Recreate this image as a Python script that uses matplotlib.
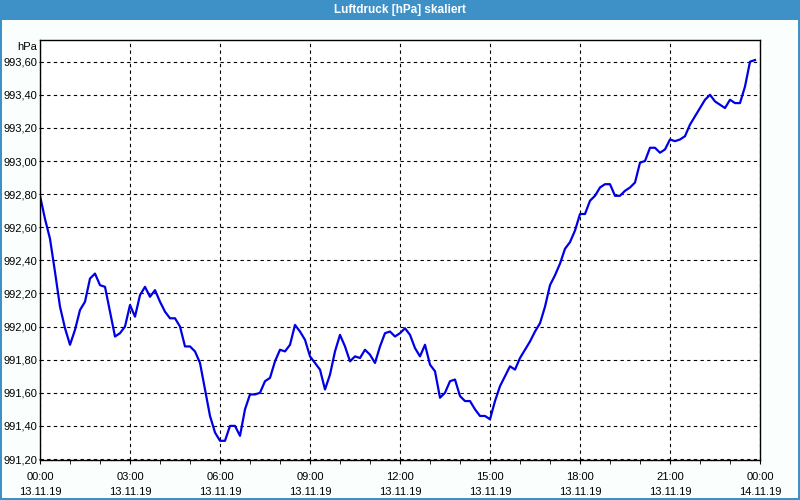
import matplotlib
matplotlib.use("Agg")
import matplotlib.pyplot as plt
import matplotlib.dates as mdates
from matplotlib.patches import Rectangle
from matplotlib.ticker import FuncFormatter, MultipleLocator
import pandas as pd

# air pressure, 10-minute samples starting 13.11.19 00:00
start = "2019-11-13 00:00"
pressure = [
    992.79, 992.65, 992.53, 992.33, 992.12, 991.99, 991.89, 991.98, 992.10, 992.15,
    992.29, 992.32, 992.25, 992.24, 992.09, 991.94, 991.96, 992.00, 992.13, 992.06,
    992.19, 992.24, 992.18, 992.22, 992.15, 992.09, 992.05, 992.05, 992.00, 991.88,
    991.88, 991.85, 991.78, 991.62, 991.46, 991.36, 991.31, 991.31, 991.40, 991.40,
    991.34, 991.50, 991.59, 991.59, 991.60, 991.67, 991.69, 991.79, 991.86, 991.85,
    991.89, 992.01, 991.97, 991.92, 991.82, 991.78, 991.74, 991.62, 991.71, 991.85,
    991.95, 991.88, 991.79, 991.82, 991.81, 991.86, 991.83, 991.78, 991.88, 991.96,
    991.97, 991.94, 991.96, 991.99, 991.95, 991.87, 991.82, 991.89, 991.77, 991.73,
    991.57, 991.60, 991.67, 991.68, 991.58, 991.55, 991.55, 991.50, 991.46, 991.46,
    991.44, 991.55, 991.64, 991.70, 991.76, 991.74, 991.81, 991.86, 991.91, 991.97,
    992.02, 992.12, 992.25, 992.31, 992.38, 992.47, 992.51, 992.58, 992.68, 992.68,
    992.76, 992.79, 992.84, 992.86, 992.86, 992.79, 992.79, 992.82, 992.84, 992.87,
    992.99, 993.00, 993.08, 993.08, 993.05, 993.07, 993.13, 993.12, 993.13, 993.15,
    993.22, 993.27, 993.32, 993.37, 993.40, 993.36, 993.34, 993.32, 993.37, 993.35,
    993.35, 993.45, 993.60, 993.61,
]
times = pd.date_range(start, periods=len(pressure), freq="10min")

title = "Luftdruck [hPa] skaliert"
unit = "hPa"

plt.rcParams['font.family'] = ['Liberation Sans', 'DejaVu Sans']

fig = plt.figure(figsize=(8, 5), dpi=100)
fig.patch.set_facecolor("#fafefd")

# window frame and title bar
fig.patches.append(Rectangle((0, 0.96), 1, 0.04, transform=fig.transFigure,
                             facecolor="#3d91c7", edgecolor="none"))
for r in [(0, 0, 0.003, 1), (0.997, 0, 0.003, 1), (0, 0, 1, 0.005)]:
    fig.patches.append(Rectangle(r[:2], r[2], r[3], transform=fig.transFigure,
                                 facecolor="#3d91c7", edgecolor="none"))
fig.text(0.5, 0.979, title, color="white", fontsize=8.5, fontweight="bold",
         ha="center", va="center")

ax = fig.add_axes([0.05, 0.08, 0.90, 0.84])
ax.set_facecolor("white")
ax.plot(times, pressure, color="#0000e6", linewidth=1.6)

ax.set_xlim(pd.Timestamp("2019-11-13 00:00"), pd.Timestamp("2019-11-14 00:00"))
ax.set_ylim(991.194, 993.731)

ax.xaxis.set_major_locator(mdates.HourLocator(byhour=range(0, 24, 3)))
ax.xaxis.set_minor_locator(mdates.HourLocator())
ax.xaxis.set_major_formatter(mdates.DateFormatter("%H:%M\n%d.%m.%y"))
ax.yaxis.set_major_locator(MultipleLocator(0.2))
ax.yaxis.set_major_formatter(FuncFormatter(lambda v, p: f"{v:.2f}".replace(".", ",")))

ax.grid(True, color="black", linestyle=(0, (3, 3)), linewidth=0.8)
ax.tick_params(axis="x", which="both", length=3, direction="out", labelsize=8, pad=6)
ax.tick_params(axis="y", length=1, labelsize=8, pad=1)
for lbl in ax.get_xticklabels():
    lbl.set_linespacing(1.6)
for s in ax.spines.values():
    s.set_color("black")
    s.set_linewidth(1)

fig.text(0.046, 0.906, unit, fontsize=8, ha="right", va="center")

fig.savefig("out.png", dpi=100, facecolor=fig.get_facecolor())
